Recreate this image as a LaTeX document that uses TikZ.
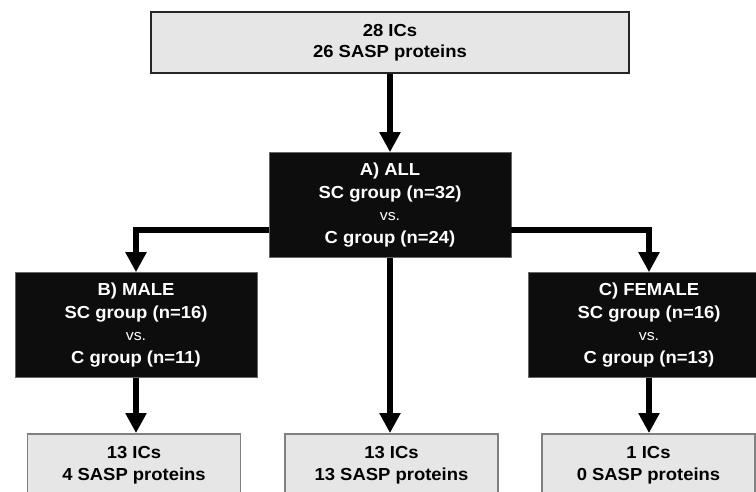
\documentclass[tikz,border=0pt]{standalone}
\usepackage{fontspec}
\setmainfont{Liberation Sans}[FakeStretch=1.06]
\usetikzlibrary{arrows.meta}
\definecolor{boxgray}{HTML}{E6E6E6}
\definecolor{boxblack}{HTML}{0D0D0D}
\tikzset{
  graybox/.style={draw=black!50, line width=1.8pt, fill=boxgray, inner sep=0pt,
    align=center, font=\bfseries\fontsize{17.4}{21.5}\selectfont, text=black},
  topbox/.style={graybox, draw=black!85},
  blackbox/.style={fill=boxblack, draw=black!60, line width=0.6pt, inner sep=0pt,
    minimum width=242pt, minimum height=105pt,
    align=center, font=\bfseries\fontsize{17.4}{22.4}\selectfont, text=white},
  arr/.style={line width=6.5pt, line join=miter, -{Triangle[width=20pt,length=20pt]}}
}
\newcommand{\vsword}{{\mdseries\fontsize{15}{22.4}\selectfont vs.}}
\begin{document}
\begin{tikzpicture}[x=1pt,y=-1pt]
\useasboundingbox (0,0) rectangle (756,492);
\node[topbox, minimum width=478pt, minimum height=61pt] (top) at (390,42.5) {28 ICs\\26 SASP proteins};
\node[blackbox] (A) at (390,205) {A) ALL\\SC group (n=32)\\\vsword\\C group (n=24)};
\node[blackbox] (B) at (136,325) {B) MALE\\SC group (n=16)\\\vsword\\C group (n=11)};
\node[blackbox] (C) at (649,325) {C) FEMALE\\SC group (n=16)\\\vsword\\C group (n=13)};
\node[graybox, minimum width=213pt, minimum height=62pt] (bl) at (134,465) {13 ICs\\4 SASP proteins};
\node[graybox, minimum width=213pt, minimum height=62pt] (bm) at (391.5,465) {13 ICs\\13 SASP proteins};
\node[graybox, minimum width=213pt, minimum height=62pt] (br) at (648.5,465) {1 ICs\\0 SASP proteins};
\draw[arr] (top.south -| A.north) -- (A.north);
\draw[arr] ([yshift=-25pt]A.west) -| (B.north);
\draw[arr] ([yshift=-25pt]A.east) -| (C.north);
\draw[arr] (A.south) -- (A.south |- bm.north);
\draw[arr] (B.south) -- (B.south |- bl.north);
\draw[arr] (C.south) -- (C.south |- br.north);
\end{tikzpicture}
\end{document}
